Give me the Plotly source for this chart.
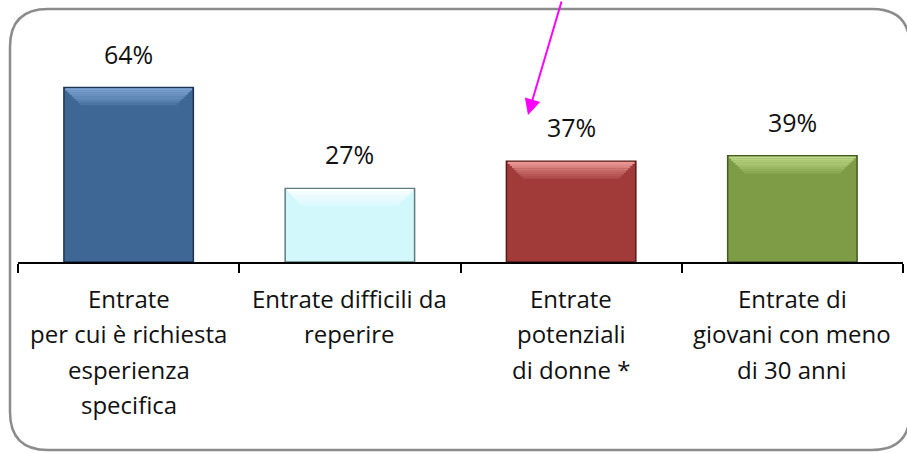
import plotly.graph_objects as go

categories = [
    "Entrate<br>per cui è richiesta<br>esperienza<br>specifica",
    "Entrate difficili da<br>reperire",
    "Entrate<br>potenziali<br>di donne *",
    "Entrate di<br>giovani con meno<br>di 30 anni",
]
values = [64, 27, 37, 39]
value_labels = ["64%", "27%", "37%", "39%"]

bar_colors = ["#3E6796", "#D3F8FC", "#A03B3A", "#7E9C45"]
bevel_top_colors = ["#86AADA", "#FFFFFF", "#EC9A98", "#C2DC8C"]
edge_colors = ["#1C3452", "#5F7C82", "#561A19", "#435A20"]

W, H = 907, 453
L, R, T, B = 18, 4, 44, 191
YMAX = 80
plot_w = W - L - R
plot_h = H - T - B


def px(xf):
    return (xf - L) / plot_w


def py(yf):
    return (H - B - yf) / plot_h


def mix(c1, c2, t):
    a = [int(c1[i:i + 2], 16) for i in (1, 3, 5)]
    b = [int(c2[i:i + 2], 16) for i in (1, 3, 5)]
    return "#" + "".join(f"{round(x + (y - x) * t):02X}" for x, y in zip(a, b))


keys = [f"c{i}" for i in range(len(categories))]
BAR_W = 0.585

fig = go.Figure()
fig.add_trace(go.Bar(
    x=keys, y=values, width=BAR_W,
    marker=dict(color=bar_colors, line=dict(color=edge_colors, width=1.5)),
    hoverinfo="skip", showlegend=False,
))

# top bevel (trapezoid built from thin stacked strips)
n_strips = 8
strip_h = 0.78
inset = 0.135
for k in range(n_strips):
    t = k / (n_strips - 1)
    fig.add_trace(go.Bar(
        x=keys, y=[strip_h] * len(values),
        base=[v - 0.25 - (k + 1) * strip_h for v in values],
        width=BAR_W - 0.012 - inset * t,
        marker=dict(color=[mix(tc, bc, 0.05 + 0.75 * t) for tc, bc in zip(bevel_top_colors, bar_colors)],
                    line=dict(width=0)),
        hoverinfo="skip", showlegend=False,
    ))

annotations = []
for k, v, lab in zip(keys, values, value_labels):
    annotations.append(dict(
        x=k, y=v, xref="x", yref="y", text=lab, showarrow=False,
        yanchor="middle", yshift=34,
        font=dict(family="Open Sans", size=25, color="#111111"),
    ))
for k, cat in zip(keys, categories):
    for i, line in enumerate(cat.split("<br>")):
        annotations.append(dict(
            x=k, y=0, xref="x", yref="y", text=line, showarrow=False,
            yanchor="middle", yshift=-36 - i * 35.5,
            font=dict(family="Open Sans", size=24, color="#111111"),
        ))

# magenta arrow
annotations.append(dict(
    x=px(528), y=py(115), xref="paper", yref="paper", text="",
    showarrow=True, ax=34, ay=-125, arrowcolor="#FF00FF",
    arrowwidth=2, arrowhead=2, arrowsize=1.6, standoff=0,
))

# rounded border (right side runs past the visible canvas, as in the original)
x0, y0, x1, y1, r = 10, 9, 910, 450, 38
path = (
    f"M {px(x0 + r)} {py(y0)} L {px(x1 - r)} {py(y0)} "
    f"Q {px(x1)} {py(y0)} {px(x1)} {py(y0 + r)} "
    f"L {px(x1)} {py(y1 - r)} Q {px(x1)} {py(y1)} {px(x1 - r)} {py(y1)} "
    f"L {px(x0 + r)} {py(y1)} Q {px(x0)} {py(y1)} {px(x0)} {py(y1 - r)} "
    f"L {px(x0)} {py(y0 + r)} Q {px(x0)} {py(y0)} {px(x0 + r)} {py(y0)} Z"
)

fig.update_layout(
    width=W, height=H,
    margin=dict(l=L, r=R, t=T, b=B),
    paper_bgcolor="white", plot_bgcolor="white",
    barmode="overlay", showlegend=False,
    annotations=annotations,
    shapes=[dict(type="path", path=path, xref="paper", yref="paper",
                 line=dict(color="#8C8C8C", width=2.5), layer="below")],
    xaxis=dict(
        type="category", showticklabels=False, showgrid=False,
        showline=True, linecolor="black", linewidth=2,
        ticks="outside", tickson="boundaries", ticklen=9, tickwidth=2,
        tickcolor="black", fixedrange=True,
    ),
    yaxis=dict(range=[0, YMAX], visible=False, showgrid=False,
               zeroline=False, fixedrange=True),
)

fig.write_html(
    "out.html",
    config={"displayModeBar": False, "staticPlot": True},
    post_script="document.body.style.margin='0px';document.body.style.overflow='hidden';",
)
